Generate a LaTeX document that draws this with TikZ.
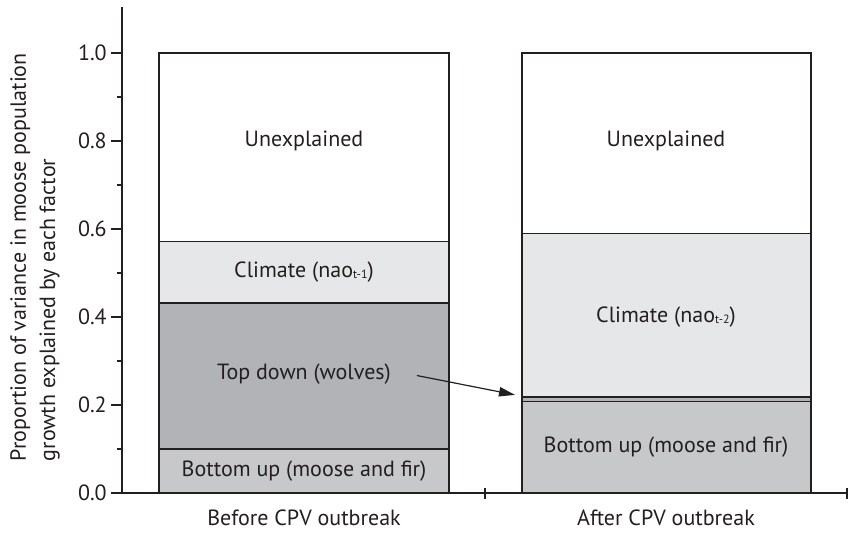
\documentclass[tikz,border=0pt]{standalone}
\usepackage{fontspec}
\setmainfont{PT Sans}
\usepackage{tikz}
\usetikzlibrary{positioning,arrows.meta}
\definecolor{inkgray}{HTML}{231F20}
\definecolor{climgray}{HTML}{E6E7E8}
\definecolor{topgray}{HTML}{B1B3B6}
\definecolor{botgray}{HTML}{C7C8CA}
\newcommand{\lagsub}[1]{\raisebox{-1pt}{\fontsize{9}{9}\selectfont #1}}

\begin{document}
\begin{tikzpicture}[x=0.75pt,y=0.75pt,
  every node/.style={font=\fontsize{16.5}{22}\selectfont, text=inkgray},
  seg/.style={draw=inkgray, line width=1pt},
  arr/.style={-{Triangle[length=12pt,width=7pt]}, line width=0.9pt, draw=inkgray}]
\useasboundingbox (0,0) rectangle (848,532);
\begin{scope}[shift={(122,39)}, y=330pt]
% before CPV outbreak
\draw[seg, fill=botgray] (37,0) rectangle (327,0.1);
\draw[seg, fill=topgray] (37,0.1) rectangle (327,0.432);
\draw[seg, fill=climgray] (37,0.432) rectangle (327,0.571);
\draw[seg, fill=white] (37,0.571) rectangle (327,1);
% after CPV outbreak
\draw[seg, fill=botgray] (400,0) rectangle (689,0.208);
\draw[seg, fill=topgray] (400,0.208) rectangle (689,0.218);
\draw[seg, fill=climgray] (400,0.218) rectangle (689,0.59);
\draw[seg, fill=white] (400,0.59) rectangle (689,1);
% segment labels
\node (bu1) at (182,0.05) {Bottom up (moose and fir)};
\node (td1) at (182,0.27) {Top down (wolves)};
\node (cl1) at (182,0.502) {Climate (nao\lagsub{t-1})};
\node (un1) at (182,0.8) {Unexplained};
\node (bu2) at (544,0.105) {Bottom up (moose and fir)};
\node (cl2) at (544,0.4) {Climate (nao\lagsub{t-2})};
\node (un2) at (544,0.8) {Unexplained};
\coordinate (td2) at (393,0.223);
\draw[arr] ([xshift=16pt,yshift=-1pt]td1.east) -- (td2);
% axes
\draw[draw=inkgray, line width=2pt] (0,0) -- (0,1.105);
\draw[draw=inkgray, line width=1pt] (0,0) -- (725,0);
\foreach \xt in {363,725}
  \draw[draw=inkgray, line width=1pt] (\xt,-0.0125) -- (\xt,0.0125);
\foreach \v/\lab [count=\i] in {0/0.0,0.2/0.2,0.4/0.4,0.6/0.6,0.8/0.8,1/1.0} {
  \draw[draw=inkgray, line width=1.2pt] (-11,\v) -- (0,\v);
  \node[anchor=east, inner sep=0pt] (tk\i) at (-15,\v) {\lab};
}
\foreach \v in {0.1,0.3,0.5,0.7,0.9}
  \draw[draw=inkgray, line width=1.2pt] (-5,\v) -- (0,\v);
\node (before) at (182,-0.057) {Before CPV outbreak};
\node (after) at (544,-0.057) {After CPV outbreak};
\node[rotate=90, align=left] (ylab) at (-87,0.536)
  {Proportion of variance in moose population\\growth explained by each factor};
\end{scope}
\end{tikzpicture}
\end{document}
